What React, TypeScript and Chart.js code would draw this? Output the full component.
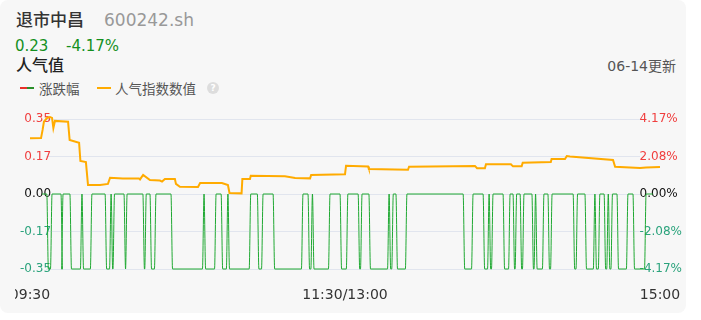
import React, { useEffect, useRef } from "react";
import { Chart, registerables } from "chart.js";

Chart.register(...registerables);

// ---- data ----
const xTickValues = [0, 120, 240];
const xTickLabels = ["09:30", "11:30/13:00", "15:00"];

const leftTickValues = [0.35, 0.175, 0, -0.175, -0.35];
const leftTickLabels = ["0.35", "0.17", "0.00", "-0.17", "-0.35"];
const rightTickValues = [4.17, 2.085, 0, -2.085, -4.17];
const rightTickLabels = ["4.17%", "2.08%", "0.00%", "-2.08%", "-4.17%"];

// 人气指数数值 (minutes from 09:30, value)
const popMinutes = [
  0, 4.2, 4.8, 5.3, 6.5, 7.6, 8.4, 8.9, 9.5, 14.5, 15.1, 18.7, 19.2, 21.3, 22.1, 26.7,
  29.7, 30.5, 35.4, 41.5, 41.9, 43.1, 45.7, 49.5, 50.3, 51.4, 55.2, 55.6, 57.1, 64,
  64.8, 73.1, 75.4, 76, 80.6, 80.9, 83.8, 84.1, 97.1, 101, 106.7, 107.1, 120, 120.4,
  128.8, 129.1, 144, 144.4, 169.5, 170.3, 173.3, 173.7, 183.2, 184, 187.3, 187.7,
  198.4, 198.7, 203.8, 204.5, 205.7, 222.1, 222.9, 232.4, 234.7, 240,
];
const popValues = [
  0.26, 0.261, 0.299, 0.337, 0.355, 0.359, 0.355, 0.308, 0.341, 0.337, 0.252, 0.239,
  0.154, 0.149, 0.042, 0.042, 0.047, 0.076, 0.072, 0.072, 0.068, 0.089, 0.065, 0.063,
  0.058, 0.07, 0.07, 0.047, 0.034, 0.033, 0.051, 0.051, 0.042, 0.005, 0.003, 0.07,
  0.07, 0.085, 0.083, 0.075, 0.073, 0.089, 0.092, 0.132, 0.128, 0.117, 0.113, 0.127,
  0.131, 0.12, 0.12, 0.139, 0.139, 0.129, 0.129, 0.146, 0.149, 0.163, 0.163, 0.177,
  0.175, 0.159, 0.127, 0.121, 0.124, 0.126,
];

// 涨跌幅: minute ranges where the change sits at 0.00 (otherwise at -0.35)
const changeHigh = 0;
const changeLow = -0.35;
const changeHighRanges: [number, number][] = [
  [4.6, 6.4], [8.4, 11.8], [12.6, 15.2], [19.8, 19.8], [23.6, 28.6], [30.9, 30.9],
  [32.2, 35.8], [37.0, 43.0], [44.3, 45.7], [48.0, 53.7], [66.3, 66.3], [70.9, 72.8],
  [75.4, 75.4], [84.1, 86.6], [88.8, 92.6], [104, 105.9], [107.6, 107.6], [114.3, 118.1],
  [121.1, 125], [126.5, 129.1], [136.8, 136.8], [138.4, 139.4], [143.6, 165],
  [168.8, 172.6], [174.9, 174.9], [176.4, 180.2], [182.9, 184], [185.4, 186.7],
  [188.2, 191.2], [192.6, 192.6], [195.8, 197.3], [198.9, 206.9], [208.6, 211.4],
  [215.2, 215.2], [217.1, 218.7], [220.3, 220.3], [221.9, 223.6], [227.8, 229.7],
  [234.7, 237.3],
];
const changeEdge = 0.6;

// visible time window of the plot grid (minutes)
const gridStartMinute = 6.095;
const gridEndMinute = 232.38;

export default function App() {
  const ref = useRef<HTMLCanvasElement | null>(null);

  useEffect(() => {
    if (!ref.current) return;
    const pop = popMinutes.map((m, i) => ({ x: m, y: popValues[i] }));
    const change: { x: number; y: number }[] = [];
    changeHighRanges.forEach(([a, b], i) => {
      if (i > 0) change.push({ x: a - changeEdge, y: changeLow });
      change.push({ x: a, y: changeHigh });
      if (b > a) change.push({ x: b, y: changeHigh });
      if (i < changeHighRanges.length - 1) change.push({ x: b + changeEdge, y: changeLow });
    });

    const leftColor = (v: number) => (v > 0 ? "#f03e3e" : v < 0 ? "#2ba37c" : "#111111");
    const zeroFit = (s: any) => {
      if (s.isHorizontal()) s.height = 0;
      else s.width = 0;
      s.paddingLeft = 0;
      s.paddingRight = 0;
      s.paddingTop = 0;
      s.paddingBottom = 0;
    };

    const chart = new Chart(ref.current, {
      type: "line",
      data: {
        datasets: [
          {
            label: "人气指数数值",
            data: pop,
            borderColor: "#ffab00",
            borderWidth: 2,
            pointRadius: 0,
            tension: 0,
            clip: false as any,
            xAxisID: "x",
            yAxisID: "y",
          },
          {
            label: "涨跌幅",
            data: change,
            borderColor: "#1fa832",
            borderWidth: 1,
            pointRadius: 0,
            cubicInterpolationMode: "monotone",
            clip: false as any,
            xAxisID: "x",
            yAxisID: "y",
          },
        ],
      },
      options: {
        animation: false,
        responsive: false,
        events: [],
        layout: { padding: { left: 31, right: 46, top: 19, bottom: 44 } },
        plugins: { legend: { display: false }, tooltip: { enabled: false } },
        scales: {
          x: {
            type: "linear",
            position: "bottom",
            bounds: "data",
            grid: { display: false },
            border: { display: false },
            afterDataLimits: (s: any) => {
              s.min = gridStartMinute;
              s.max = gridEndMinute;
            },
            afterBuildTicks: (s: any) => {
              s.ticks = xTickValues.map((v) => ({ value: v }));
            },
            afterFit: zeroFit,
            ticks: {
              mirror: true,
              autoSkip: false,
              maxRotation: 0,
              padding: -35,
              color: "#333333",
              font: { family: "DejaVu Sans", size: 14 },
              callback: (_v: any, i: number) => xTickLabels[i],
            },
          },
          y: {
            position: "left",
            min: -0.35,
            max: 0.35,
            grid: { color: "#e1e5ee", lineWidth: 1, drawTicks: false },
            border: { display: false },
            afterBuildTicks: (s: any) => {
              s.ticks = leftTickValues.map((v) => ({ value: v }));
            },
            afterFit: zeroFit,
            ticks: {
              mirror: true,
              crossAlign: "far",
              padding: -26,
              font: { family: "DejaVu Sans", size: 12 },
              color: (c: any) => leftColor(c.tick.value),
              callback: (_v: any, i: number) => leftTickLabels[i],
            },
          },
          yr: {
            position: "right",
            min: -4.17,
            max: 4.17,
            grid: { display: false, drawTicks: false },
            border: { display: false },
            afterBuildTicks: (s: any) => {
              s.ticks = rightTickValues.map((v) => ({ value: v }));
            },
            afterFit: zeroFit,
            ticks: {
              mirror: true,
              crossAlign: "far",
              padding: 42,
              font: { family: "DejaVu Sans", size: 12 },
              color: (c: any) => leftColor(c.tick.value),
              callback: (_v: any, i: number) => rightTickLabels[i],
            },
          },
        },
      } as any,
    });
    return () => chart.destroy();
  }, []);

  const font = '"DejaVu Sans", "Noto Sans CJK SC", sans-serif';
  const abs = (extra: React.CSSProperties): React.CSSProperties => ({
    position: "absolute",
    whiteSpace: "nowrap",
    fontFamily: font,
    ...extra,
  });

  return (
    <div style={{ position: "absolute", left: 0, top: 0, width: 701, height: 320, background: "#ffffff", overflow: "hidden" }}>
      <div style={{ position: "absolute", left: 0, top: 0, width: 686, height: 313, background: "#f7f7f7", borderRadius: 8 }}>
        <span style={abs({ left: 16, top: 10, fontSize: 17, lineHeight: "20px", color: "#333333", fontWeight: 500 })}>退市中昌</span>
        <span style={abs({ left: 104, top: 10, fontSize: 17, lineHeight: "20px", color: "#999999" })}>600242.sh</span>
        <span style={abs({ left: 15, top: 36, fontSize: 15, lineHeight: "20px", color: "#14901e" })}>0.23</span>
        <span style={abs({ left: 66, top: 36, fontSize: 15, lineHeight: "20px", color: "#14901e" })}>-4.17%</span>
        <span style={abs({ left: 16, top: 55, fontSize: 16, lineHeight: "22px", color: "#222222", fontWeight: 500 })}>人气值</span>
        <span style={abs({ right: 10, top: 56, fontSize: 14, lineHeight: "20px", color: "#555555" })}>06-14更新</span>
        <div style={{ position: "absolute", left: 20, top: 87, width: 7, height: 2, background: "#e8312a" }} />
        <div style={{ position: "absolute", left: 27, top: 87, width: 7, height: 2, background: "#2a8f2a" }} />
        <span style={abs({ left: 39, top: 79, fontSize: 13.5, lineHeight: "20px", color: "#555555" })}>涨跌幅</span>
        <div style={{ position: "absolute", left: 97, top: 87, width: 14, height: 2, background: "#ffab00" }} />
        <span style={abs({ left: 115, top: 79, fontSize: 13.5, lineHeight: "20px", color: "#555555" })}>人气指数数值</span>
        <div style={abs({ left: 207, top: 82, width: 12, height: 12, borderRadius: 6, background: "#dddddd", color: "#ffffff", fontSize: 9, lineHeight: "12px", textAlign: "center", fontWeight: 700 })}>?</div>
        <canvas ref={ref} width={671} height={213} style={{ position: "absolute", left: 15, top: 100, width: 671, height: 213 }} />
      </div>
    </div>
  );
}
